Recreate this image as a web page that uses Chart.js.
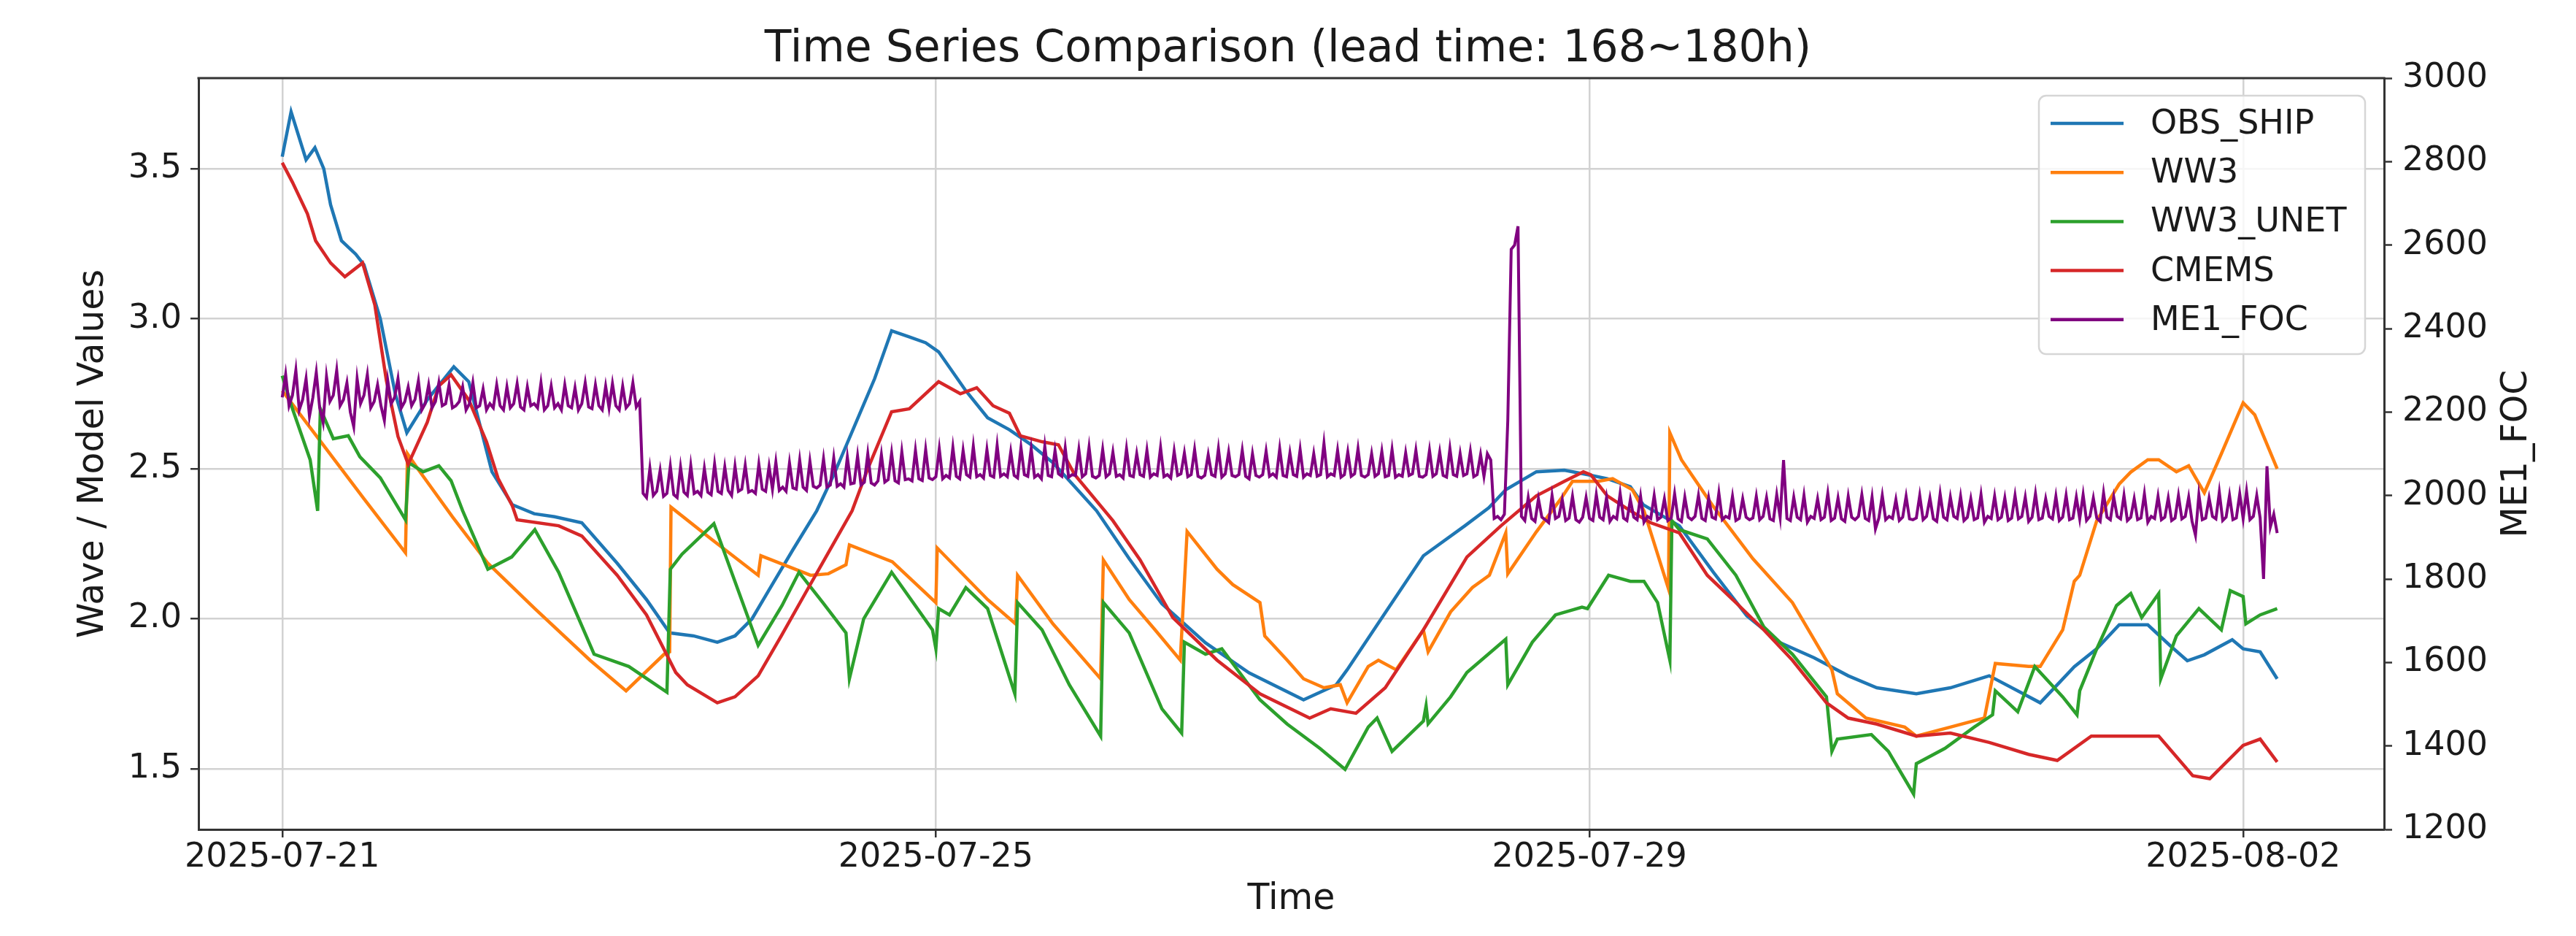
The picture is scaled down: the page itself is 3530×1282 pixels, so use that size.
<!DOCTYPE html>
<html>
<head>
<meta charset="utf-8">
<script src="https://cdn.jsdelivr.net/npm/chart.js@4.4.1/dist/chart.umd.min.js"></script>
<style>
  html, body { margin: 0; padding: 0; background: #ffffff; }
  #wrap { width: 3530px; height: 1282px; }
</style>
</head>
<body>
<div id="wrap"><canvas id="tsChart" width="3530" height="1282"></canvas></div>
<script>
// hours since 2025-07-21 00:00
const tickHours = [0, 96, 192, 288];
const tickLabels = ['2025-07-21', '2025-07-25', '2025-07-29', '2025-08-02'];
const leftTicks = [1.5, 2.0, 2.5, 3.0, 3.5];

const obsHours = [0, 1.3, 3.5, 4.8, 6.1, 7.1, 8.7, 10.8, 12, 14.4, 16.6, 18.3, 21.3, 25.2, 27.4, 30.8, 33.8, 34.9, 37, 40,
  44, 49.2, 53.5, 56.9, 60.4, 63.9, 66.5, 69, 71.6, 75, 78.5, 81, 84, 87, 89.5, 92, 94.5, 96.4, 100.4, 103.6,
  106.8, 110, 113.2, 116, 119.6, 124.4, 129.2, 135.6, 142, 150, 154.8, 156.4, 162, 167.6, 173.7, 177.2, 179.7, 184.2, 188.3, 191.8,
  194.6, 198, 199.9, 205.2, 210.2, 215.1, 220, 225, 230, 234.2, 240, 245, 250.7, 254.9, 258.2, 263.2, 266.5, 269.8, 274, 277.3,
  279.8, 282.3, 286.4, 288, 290.5, 293];
const obsValues = [3.54, 3.69, 3.53, 3.57, 3.50, 3.38, 3.26, 3.215, 3.18, 3.0, 2.75, 2.62, 2.73, 2.84, 2.79, 2.49, 2.38, 2.37, 2.35, 2.34,
  2.32, 2.185, 2.064, 1.953, 1.943, 1.922, 1.943, 2.0, 2.1, 2.23, 2.36, 2.48, 2.64, 2.8, 2.96, 2.94, 2.92, 2.89, 2.76, 2.67,
  2.63, 2.58, 2.52, 2.45, 2.36, 2.2, 2.05, 1.92, 1.82, 1.73, 1.78, 1.83, 2.02, 2.21, 2.31, 2.37, 2.43, 2.49, 2.495, 2.48,
  2.467, 2.44, 2.38, 2.31, 2.155, 2.01, 1.92, 1.87, 1.81, 1.77, 1.75, 1.77, 1.81, 1.76, 1.72, 1.84, 1.90, 1.98, 1.98, 1.91,
  1.86, 1.88, 1.93, 1.90, 1.89, 1.80];

const ww3Hours = [0, 6, 12, 18.1, 18.4, 19.9, 25, 30.2, 37.1, 45.2, 50.5, 56.1, 56.9, 57.1, 63, 69.9, 70.3, 77.6, 80.2, 82.8,
  83.3, 89.6, 96, 96.2, 103.6, 107.7, 108, 113.2, 120.2, 120.6, 124.4, 128.2, 131.9, 132.9, 137.3, 139.6, 143.6, 144.3, 147.6, 150,
  153, 155.4, 156.4, 159.5, 161, 163.6, 167.6, 168.3, 171.6, 174.8, 177.3, 179.7, 180, 184.2, 187.8, 189.5, 193.3, 195.4, 198.3, 200,
  203.6, 203.8, 205.5, 210, 216, 221.8, 227.6, 228.4, 232.6, 238.3, 240, 245, 250, 251.6, 256.5, 258.2, 261.5, 263.2, 264, 266.5,
  269.8, 271.5, 274, 275.6, 278.2, 280, 282.3, 284.8, 288, 289.7, 293];
const ww3Values = [2.76, 2.58, 2.40, 2.22, 2.55, 2.50, 2.34, 2.185, 2.034, 1.862, 1.76, 1.882, 1.89, 2.372, 2.266, 2.145, 2.21, 2.145, 2.15, 2.18,
  2.246, 2.19, 2.054, 2.236, 2.064, 1.983, 2.145, 1.983, 1.80, 2.196, 2.064, 1.963, 1.862, 2.291, 2.165, 2.114, 2.054, 1.943, 1.862, 1.80,
  1.77, 1.78, 1.72, 1.841, 1.862, 1.83, 1.963, 1.89, 2.023, 2.104, 2.145, 2.286, 2.15, 2.29, 2.40, 2.458, 2.458, 2.467, 2.43, 2.36,
  2.1, 2.62, 2.53, 2.38, 2.2, 2.054, 1.83, 1.75, 1.669, 1.639, 1.609, 1.639, 1.669, 1.851, 1.841, 1.841, 1.963, 2.125, 2.145, 2.327,
  2.449, 2.489, 2.53, 2.53, 2.49, 2.51, 2.42, 2.55, 2.72, 2.68, 2.50];

const unetHours = [0, 1.5, 4.1, 5.2, 5.6, 7.5, 9.7, 11.4, 14.4, 18.1, 18.6, 20.7, 23, 24.8, 26.5, 30.2, 33.7, 37.1, 40.6, 45.8,
  50.9, 56.5, 57, 58.7, 63.4, 69.9, 73.4, 75.9, 79.4, 82.8, 83.3, 85.4, 89.5, 95.5, 96, 96.4, 98, 100.4, 103.6, 107.6,
  108, 111.6, 115.6, 120.2, 120.6, 124.4, 129.2, 132.1, 132.5, 135.6, 138, 143.6, 147.6, 152.4, 156.1, 159.5, 160.8, 163, 167.6, 168,
  168.3, 171.6, 174, 179.7, 180, 183.6, 187, 190.9, 191.7, 194.8, 198, 200, 202, 203.8, 204.1, 205.2, 209.3, 213.5, 217.6, 221.8,
  226.8, 227.6, 228.4, 233.4, 235.9, 239.6, 240, 244.2, 248.5, 251.2, 251.6, 254.9, 257.4, 261.5, 263.6, 264, 266.5, 269.4, 271.5, 273.1,
  275.6, 275.9, 278.2, 281.5, 284.8, 286.1, 288, 288.4, 290.5, 293];
const unetValues = [2.81, 2.70, 2.53, 2.36, 2.70, 2.60, 2.61, 2.54, 2.47, 2.33, 2.52, 2.49, 2.51, 2.46, 2.36, 2.165, 2.206, 2.297, 2.155, 1.882,
  1.841, 1.755, 2.165, 2.215, 2.317, 1.912, 2.044, 2.155, 2.054, 1.953, 1.80, 2.0, 2.155, 1.963, 1.90, 2.034, 2.013, 2.104, 2.034, 1.75,
  2.054, 1.963, 1.78, 1.609, 2.054, 1.953, 1.70, 1.619, 1.922, 1.882, 1.90, 1.73, 1.649, 1.568, 1.498, 1.639, 1.669, 1.558, 1.659, 1.71,
  1.65, 1.74, 1.821, 1.932, 1.78, 1.922, 2.013, 2.039, 2.034, 2.145, 2.125, 2.125, 2.054, 1.862, 2.327, 2.297, 2.266, 2.145, 1.973, 1.882,
  1.74, 1.558, 1.599, 1.614, 1.558, 1.416, 1.517, 1.568, 1.639, 1.68, 1.76, 1.69, 1.841, 1.74, 1.68, 1.76, 1.90, 2.044, 2.084, 2.004,
  2.084, 1.80, 1.943, 2.034, 1.963, 2.094, 2.074, 1.983, 2.013, 2.034];

const cmemsHours = [0, 1.5, 3.7, 4.9, 7.1, 9.2, 11.8, 13.6, 15.3, 17, 18.5, 21.3, 23, 24.8, 27.4, 30, 31.7, 33.8, 34.5, 40.6,
  44, 49.2, 53.5, 57.8, 59.5, 63.9, 66.5, 69.9, 73.3, 76.8, 80.2, 83.7, 86, 89.5, 92.1, 96.4, 99.6, 102, 104.4, 106.8,
  108.4, 111.6, 114, 116.4, 122, 126, 130.8, 137.3, 143.6, 150.9, 154, 157.7, 162, 167.6, 174, 179, 184.2, 188.3, 191.1, 192.2,
  194.6, 198, 201, 205.2, 209.3, 213.5, 217.6, 221.8, 226.8, 230, 234.2, 240, 245, 250.7, 256.5, 260.7, 265.7, 271.5, 275.6, 280.6,
  283.1, 288, 290.5, 293];
const cmemsValues = [3.52, 3.455, 3.35, 3.26, 3.186, 3.14, 3.186, 3.046, 2.794, 2.608, 2.515, 2.655, 2.776, 2.813, 2.729, 2.59, 2.468, 2.376, 2.33, 2.31,
  2.276, 2.145, 2.013, 1.821, 1.78, 1.72, 1.74, 1.81, 1.943, 2.084, 2.22, 2.36, 2.5, 2.69, 2.70, 2.79, 2.75, 2.77, 2.71, 2.685,
  2.61, 2.59, 2.58, 2.48, 2.327, 2.196, 2.004, 1.862, 1.75, 1.669, 1.70, 1.685, 1.77, 1.963, 2.206, 2.31, 2.41, 2.458, 2.49, 2.48,
  2.41, 2.36, 2.32, 2.286, 2.145, 2.054, 1.963, 1.862, 1.72, 1.669, 1.649, 1.609, 1.619, 1.588, 1.548, 1.528, 1.609, 1.609, 1.609, 1.477,
  1.467, 1.578, 1.599, 1.523];

// ME1_FOC, half-hourly from hour 0 (one row per day)
const focValues = [
  2235, 2290, 2215, 2240, 2300, 2205, 2230, 2280, 2190, 2235, 2295, 2210, 2175, 2285, 2225, 2240, 2300, 2215, 2230, 2270, 2200, 2165, 2280, 2220,
  2240, 2290, 2210, 2225, 2265, 2215, 2180, 2275, 2220, 2235, 2280, 2210, 2225, 2260, 2215, 2230, 2275, 2205, 2220, 2265, 2210, 2225, 2270, 2215,
  2220, 2265, 2210, 2215, 2225, 2260, 2205, 2220, 2270, 2210, 2215, 2255, 2205, 2220, 2210, 2265, 2215, 2205, 2260, 2210, 2220, 2268, 2212, 2205,
  2260, 2215, 2220, 2210, 2270, 2205, 2215, 2262, 2210, 2220, 2205, 2265, 2215, 2210, 2258, 2205, 2220, 2270, 2212, 2208, 2265, 2215, 2205, 2262,
  2210, 2268, 2215, 2205, 2262, 2210, 2220, 2270, 2212, 2225, 2005, 1995, 2065, 2000, 2010, 2060, 1998, 2005, 2070, 2002, 1995, 2068, 2008, 2000,
  2072, 2005, 2010, 2000, 2065, 2008, 2002, 2075, 2010, 2005, 2068, 2012, 2000, 2070, 2010, 2015, 2072, 2008, 2012, 2005, 2075, 2015, 2010, 2070,
  2015, 2080, 2012, 2020, 2010, 2078, 2018, 2015, 2085, 2020, 2012, 2082, 2022, 2018, 2025, 2088, 2020, 2025, 2090, 2022, 2028, 2020, 2092, 2028,
  2030, 2095, 2025, 2032, 2100, 2030, 2025, 2035, 2098, 2032, 2038, 2102, 2035, 2030, 2105, 2038, 2040, 2035, 2108, 2040, 2036, 2110, 2042, 2038,
  2045, 2112, 2040, 2048, 2042, 2115, 2046, 2040, 2108, 2050, 2044, 2118, 2045, 2050, 2042, 2110, 2048, 2044, 2120, 2046, 2052, 2045, 2105, 2048,
  2042, 2115, 2050, 2046, 2112, 2044, 2050, 2040, 2118, 2048, 2045, 2108, 2052, 2046, 2114, 2044, 2050, 2048, 2110, 2045, 2052, 2116, 2046, 2042,
  2048, 2110, 2045, 2052, 2104, 2046, 2050, 2042, 2112, 2048, 2045, 2100, 2050, 2046, 2108, 2044, 2052, 2048, 2115, 2045, 2050, 2042, 2106, 2048,
  2052, 2102, 2045, 2050, 2110, 2046, 2042, 2048, 2098, 2050, 2046, 2112, 2044, 2052, 2104, 2048, 2045, 2050, 2108, 2046, 2040, 2100, 2048, 2044,
  2050, 2106, 2046, 2052, 2044, 2112, 2048, 2045, 2102, 2050, 2046, 2110, 2044, 2052, 2048, 2100, 2046, 2050, 2125, 2045, 2052, 2048, 2108, 2044,
  2050, 2104, 2046, 2052, 2112, 2048, 2044, 2050, 2100, 2046, 2052, 2106, 2045, 2048, 2110, 2044, 2050, 2046, 2102, 2048, 2052, 2108, 2046, 2044,
  2050, 2108, 2046, 2052, 2104, 2048, 2044, 2112, 2050, 2046, 2100, 2048, 2052, 2106, 2045, 2050, 2098, 2046, 2100, 2085, 1945, 1950, 1942, 1955,
  2180, 2590, 2600, 2645, 1950, 1940, 1995, 1945, 1938, 1992, 1948, 1942, 1935, 2000, 1945, 1950, 1990, 1940, 1946, 1998, 1942, 1936, 1948, 1995,
  1945, 1940, 2002, 1948, 1942, 1995, 1938, 1950, 1944, 2005, 1946, 1940, 1990, 1948, 1942, 1998, 1936, 1950, 1945, 2000, 1942, 1948, 1992, 1940,
  1946, 2004, 1944, 1938, 1996, 1948, 1942, 1950, 2000, 1945, 1940, 1994, 1948, 1944, 2006, 1942, 1950, 1946, 1998, 1940, 1945, 1992, 1948, 1942,
  1946, 1998, 1942, 1950, 1995, 1944, 1940, 2002, 1948, 2085, 1945, 1940, 1996, 1948, 1942, 2000, 1936, 1950, 1945, 1992, 1942, 1948, 2005, 1940,
  1946, 1994, 1944, 1938, 1998, 1948, 1942, 1950, 2002, 1945, 1940, 1996, 1920, 1946, 2000, 1942, 1950, 1945, 1990, 1940, 1948, 1998, 1944, 1942,
  1946, 2000, 1942, 1950, 1994, 1944, 1938, 2004, 1948, 1942, 1996, 1950, 1945, 1998, 1940, 1948, 1992, 1942, 1946, 2002, 1936, 1950, 1945, 1998,
  1942, 1948, 1994, 1940, 1946, 2000, 1944, 1950, 1996, 1938, 1948, 2004, 1942, 1946, 1992, 1950, 1944, 1998, 1940, 1948, 2000, 1942, 1946, 1996,
  1944, 2002, 1940, 1950, 1994, 1946, 1938, 2006, 1948, 1942, 1996, 1950, 1944, 2000, 1940, 1948, 1992, 1942, 1946, 2004, 1936, 1950, 1945, 1998,
  1942, 1948, 1994, 1940, 1946, 2000, 1944, 1950, 1996, 1938, 1905, 2002, 1942, 1946, 1994, 1950, 1944, 2008, 1940, 1948, 2000, 1942, 1946, 2004,
  1945, 2010, 1942, 1950, 2000, 1946, 1800, 2070, 1925, 1955, 1910
];

const FONT = "'DejaVu Sans', 'Liberation Sans', sans-serif";
const TEXT = '#1a1a1a';
const SPINE = '#333333';
const GRID = '#d2d2d2';

function pairs(hours, values) {
  return values.map((v, i) => ({ x: hours[i], y: v }));
}

function line(label, data, color, axis, order, width) {
  return {
    label: label,
    data: data,
    borderColor: color,
    backgroundColor: color,
    borderWidth: width,
    pointRadius: 0,
    tension: 0,
    fill: false,
    yAxisID: axis,
    order: order
  };
}

const datasets = [
  line('OBS_SHIP', pairs(obsHours, obsValues), '#1f77b4', 'y', 5, 4.5),
  line('WW3', pairs(ww3Hours, ww3Values), '#ff7f0e', 'y', 4, 4.5),
  line('WW3_UNET', pairs(unetHours, unetValues), '#2ca02c', 'y', 3, 4.5),
  line('CMEMS', pairs(cmemsHours, cmemsValues), '#d62728', 'y', 2, 4.5),
  line('ME1_FOC', focValues.map((v, i) => ({ x: i / 2, y: v })), '#800080', 'y1', 1, 4)
];

// box border, right axis label and legend
const decorPlugin = {
  id: 'decor',
  afterDraw(chart) {
    const ctx = chart.ctx;
    const a = chart.chartArea;
    ctx.save();
    ctx.strokeStyle = SPINE;
    ctx.lineWidth = 3;
    ctx.beginPath();
    ctx.moveTo(a.left - 1.5, a.top);
    ctx.lineTo(a.right + 1.5, a.top);
    ctx.stroke();

    ctx.fillStyle = TEXT;
    ctx.font = '49px ' + FONT;
    ctx.textAlign = 'center';
    ctx.textBaseline = 'middle';
    ctx.translate(3449, (a.top + a.bottom) / 2);
    ctx.rotate(-Math.PI / 2);
    ctx.fillText('ME1_FOC', 0, 0);
    ctx.restore();

    // legend
    const bx = 2794, by = 131, bw = 447, bh = 354, r = 10;
    ctx.save();
    ctx.beginPath();
    ctx.moveTo(bx + r, by);
    ctx.arcTo(bx + bw, by, bx + bw, by + bh, r);
    ctx.arcTo(bx + bw, by + bh, bx, by + bh, r);
    ctx.arcTo(bx, by + bh, bx, by, r);
    ctx.arcTo(bx, by, bx + bw, by, r);
    ctx.closePath();
    ctx.fillStyle = 'rgba(255,255,255,0.8)';
    ctx.fill();
    ctx.strokeStyle = '#d6d6d6';
    ctx.lineWidth = 2.5;
    ctx.stroke();
    ctx.font = '46px ' + FONT;
    ctx.textAlign = 'left';
    ctx.textBaseline = 'middle';
    chart.data.datasets.forEach((ds, i) => {
      const y = 169 + i * 67.2;
      ctx.strokeStyle = ds.borderColor;
      ctx.lineWidth = 4.5;
      ctx.beginPath();
      ctx.moveTo(2810, y);
      ctx.lineTo(2910, y);
      ctx.stroke();
      ctx.fillStyle = TEXT;
      ctx.fillText(ds.label, 2947, y + 2);
    });
    ctx.restore();
  }
};

const ctx = document.getElementById('tsChart').getContext('2d');
new Chart(ctx, {
  type: 'line',
  data: { datasets: datasets },
  options: {
    responsive: false,
    animation: false,
    devicePixelRatio: 1,
    layout: { padding: 0 },
    plugins: {
      legend: { display: false },
      tooltip: { enabled: false },
      title: {
        display: true,
        text: 'Time Series Comparison (lead time: 168~180h)',
        color: TEXT,
        font: { family: FONT, size: 60, weight: 'normal' },
        padding: { top: 32, bottom: 3 }
      }
    },
    scales: {
      x: {
        type: 'linear',
        position: 'bottom',
        min: -12.3,
        max: 308.7,
        afterBuildTicks: (s) => { s.ticks = tickHours.map(v => ({ value: v })); },
        afterFit: (s) => { s.height = 146; },
        ticks: {
          callback: (v) => tickLabels[tickHours.indexOf(v)],
          color: TEXT,
          font: { family: FONT, size: 46 },
          padding: 0,
          maxRotation: 0,
          autoSkip: false
        },
        grid: { color: GRID, lineWidth: 2.5, tickColor: SPINE, tickLength: 11, tickWidth: 2.5 },
        border: { color: SPINE, width: 3 },
        title: {
          display: true,
          text: 'Time',
          color: TEXT,
          font: { family: FONT, size: 49 },
          padding: { top: 0, bottom: 20 }
        }
      },
      y: {
        position: 'left',
        min: 1.298,
        max: 3.802,
        afterBuildTicks: (s) => { s.ticks = leftTicks.map(v => ({ value: v })); },
        afterFit: (s) => { s.width = 272; },
        ticks: {
          callback: (v) => v.toFixed(1),
          color: TEXT,
          font: { family: FONT, size: 46 },
          padding: 12
        },
        grid: { color: GRID, lineWidth: 2.5, tickColor: SPINE, tickLength: 11, tickWidth: 2.5 },
        border: { color: SPINE, width: 3 },
        title: {
          display: true,
          text: 'Wave / Model Values',
          color: TEXT,
          font: { family: FONT, size: 49 },
          padding: { top: 99, bottom: 0 }
        }
      },
      y1: {
        position: 'right',
        min: 1200,
        max: 3000,
        afterFit: (s) => { s.width = 263; },
        ticks: {
          stepSize: 200,
          callback: (v) => String(v),
          color: TEXT,
          font: { family: FONT, size: 46 },
          padding: 14
        },
        grid: { drawOnChartArea: false, tickColor: SPINE, tickLength: 11, tickWidth: 2.5 },
        border: { color: SPINE, width: 3 }
      }
    }
  },
  plugins: [decorPlugin]
});
</script>
</body>
</html>
